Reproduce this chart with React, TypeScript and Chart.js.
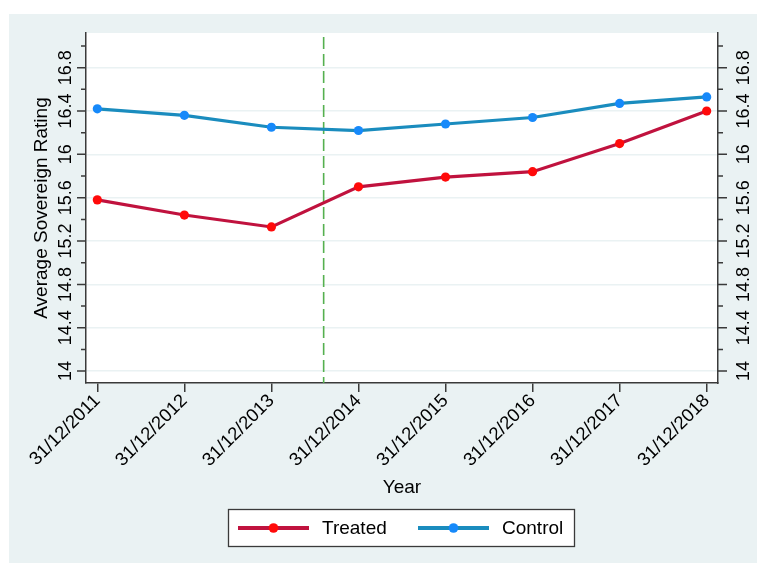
import React, { useEffect, useRef } from 'react';
import { Chart, registerables } from 'chart.js';

Chart.register(...registerables);

// ---- data ----
const categories = [
  '31/12/2011',
  '31/12/2012',
  '31/12/2013',
  '31/12/2014',
  '31/12/2015',
  '31/12/2016',
  '31/12/2017',
  '31/12/2018',
];
const treated = [15.58, 15.44, 15.33, 15.7, 15.79, 15.84, 16.1, 16.4];
const control = [16.42, 16.36, 16.25, 16.22, 16.28, 16.34, 16.47, 16.53];
const seriesNames = ['Treated', 'Control'];
const yMajorTicks = [14, 14.4, 14.8, 15.2, 15.6, 16, 16.4, 16.8];
const yMinorTicks = [14.2, 14.6, 15.0, 15.4, 15.8, 16.2, 16.6, 17.0];
const treatmentX = 2.6; // position of the dashed vertical line (in category units)
const xTitle = 'Year';
const yTitle = 'Average Sovereign Rating';

// ---- styles ----
const FONT = '"Liberation Sans", Arial, Helvetica, sans-serif';
const AXIS = '#3a3a3a';
const PANEL = '#EAF2F3';
const GRID = '#EAF2F3';
const TREATED_LINE = '#C0123E';
const TREATED_MARK = '#FF0A0A';
const CONTROL_LINE = '#1A8CBE';
const CONTROL_MARK = '#1689FA';
const DASH = '#55B04F';
const TICK_FONT = 18;
const XTICK_FONT = 18.5;
const TITLE_FONT = 19;

const W = 761;
const H = 563;

const decorPlugin = {
  id: 'decor',
  beforeDraw(chart: any) {
    const { ctx, chartArea } = chart;
    ctx.save();
    ctx.fillStyle = '#ffffff';
    ctx.fillRect(0, 0, W, H);
    ctx.fillStyle = PANEL;
    ctx.fillRect(9, 14, 757 - 9, H - 14);
    ctx.fillStyle = '#ffffff';
    ctx.fillRect(chartArea.left, chartArea.top, chartArea.right - chartArea.left, chartArea.bottom - chartArea.top);
    ctx.restore();
  },
  beforeDatasetsDraw(chart: any) {
    const { ctx, chartArea, scales } = chart;
    const x = scales.x.getPixelForValue(treatmentX);
    ctx.save();
    ctx.strokeStyle = DASH;
    ctx.lineWidth = 1.6;
    ctx.setLineDash([12, 5]);
    ctx.lineDashOffset = -4;
    ctx.beginPath();
    ctx.moveTo(x, chartArea.top);
    ctx.lineTo(x, chartArea.bottom);
    ctx.stroke();
    ctx.restore();
  },
  afterDraw(chart: any) {
    const { ctx, chartArea, scales } = chart;
    const ys = scales.y;
    ctx.save();
    // y tick marks on both sides
    ctx.strokeStyle = AXIS;
    ctx.lineWidth = 1.5;
    const drawTick = (v: number, len: number) => {
      const py = ys.getPixelForValue(v);
      ctx.beginPath();
      ctx.moveTo(chartArea.left - len, py);
      ctx.lineTo(chartArea.left, py);
      ctx.moveTo(chartArea.right, py);
      ctx.lineTo(chartArea.right + len, py);
      ctx.stroke();
    };
    yMajorTicks.forEach((v) => drawTick(v, 9));
    yMinorTicks.forEach((v) => drawTick(v, 5));

    // y tick labels (rotated)
    ctx.fillStyle = '#000';
    ctx.font = `${TICK_FONT}px ${FONT}`;
    ctx.textAlign = 'center';
    ctx.textBaseline = 'alphabetic';
    yMajorTicks.forEach((v) => {
      const py = ys.getPixelForValue(v);
      const label = String(v);
      [chartArea.left - 15, chartArea.right + 31].forEach((bx) => {
        ctx.save();
        ctx.translate(bx, py);
        ctx.rotate(-Math.PI / 2);
        ctx.fillText(label, 0, 0);
        ctx.restore();
      });
    });

    // axis titles
    ctx.font = `${TITLE_FONT}px ${FONT}`;
    ctx.textAlign = 'center';
    ctx.textBaseline = 'middle';
    ctx.fillText(xTitle, (chartArea.left + chartArea.right) / 2, 488);
    ctx.save();
    ctx.translate(42, (chartArea.top + chartArea.bottom) / 2);
    ctx.rotate(-Math.PI / 2);
    ctx.fillText(yTitle, 0, 0);
    ctx.restore();

    // legend
    const lx = 228, ly = 509, lw = 346, lh = 37;
    ctx.fillStyle = '#ffffff';
    ctx.fillRect(lx, ly, lw, lh);
    ctx.strokeStyle = AXIS;
    ctx.lineWidth = 1.3;
    ctx.strokeRect(lx + 0.5, ly + 0.5, lw, lh);
    const cy = ly + lh / 2 + 0.5;
    const items = [
      { name: seriesNames[0], line: TREATED_LINE, mark: TREATED_MARK, x0: 238, x1: 309, tx: 322 },
      { name: seriesNames[1], line: CONTROL_LINE, mark: CONTROL_MARK, x0: 418, x1: 489, tx: 502 },
    ];
    items.forEach((it) => {
      ctx.strokeStyle = it.line;
      ctx.lineWidth = 4;
      ctx.beginPath();
      ctx.moveTo(it.x0, cy);
      ctx.lineTo(it.x1, cy);
      ctx.stroke();
      ctx.fillStyle = it.mark;
      ctx.beginPath();
      ctx.arc((it.x0 + it.x1) / 2, cy, 4.8, 0, Math.PI * 2);
      ctx.fill();
      ctx.fillStyle = '#000';
      ctx.font = `${TITLE_FONT}px ${FONT}`;
      ctx.textAlign = 'left';
      ctx.textBaseline = 'middle';
      ctx.fillText(it.name, it.tx, cy + 1);
    });
    ctx.restore();
  },
};

export default function App() {
  const ref = useRef<HTMLCanvasElement | null>(null);

  useEffect(() => {
    const canvas = ref.current;
    if (!canvas) return;
    const yMin = 13.89;
    const yMax = 17.12;
    const chart = new Chart(canvas, {
      type: 'line',
      data: {
        datasets: [
          {
            label: seriesNames[0],
            data: treated.map((v, i) => ({ x: i, y: v })),
            borderColor: TREATED_LINE,
            backgroundColor: TREATED_MARK,
            pointBackgroundColor: TREATED_MARK,
            pointBorderWidth: 0,
            pointRadius: 4.6,
            borderWidth: 3.2,
            tension: 0,
            yAxisID: 'y',
          },
          {
            label: seriesNames[1],
            data: control.map((v, i) => ({ x: i, y: v })),
            borderColor: CONTROL_LINE,
            backgroundColor: CONTROL_MARK,
            pointBackgroundColor: CONTROL_MARK,
            pointBorderWidth: 0,
            pointRadius: 4.6,
            borderWidth: 3.2,
            tension: 0,
            yAxisID: 'y',
          },
        ],
      },
      options: {
        responsive: false,
        animation: false,
        devicePixelRatio: 1,
        layout: { padding: { top: 33, left: 0, right: 0, bottom: 0 } },
        plugins: {
          legend: { display: false },
          tooltip: { enabled: false },
        },
        scales: {
          x: {
            type: 'linear',
            min: -0.13,
            max: 7.13,
            afterBuildTicks: (s: any) => {
              s.ticks = categories.map((_, i) => ({ value: i }));
            },
            afterFit: (s: any) => {
              s.height = 180;
            },
            grid: {
              drawOnChartArea: false,
              drawTicks: true,
              tickLength: 9,
              color: AXIS,
              lineWidth: 1.5,
            },
            border: { display: true, color: AXIS, width: 1.5 },
            ticks: {
              autoSkip: false,
              minRotation: 45,
              maxRotation: 45,
              padding: -2,
              color: '#000',
              font: { family: FONT, size: XTICK_FONT },
              callback: (v: any) => categories[v] ?? '',
            },
          },
          y: {
            type: 'linear',
            position: 'left',
            min: yMin,
            max: yMax,
            afterBuildTicks: (s: any) => {
              s.ticks = yMajorTicks.map((v) => ({ value: v }));
            },
            afterFit: (s: any) => {
              s.width = 86;
            },
            grid: { color: GRID, lineWidth: 1.5, drawTicks: false },
            border: { display: true, color: AXIS, width: 1.5 },
            ticks: { display: false },
          },
          y2: {
            type: 'linear',
            position: 'right',
            min: yMin,
            max: yMax,
            afterFit: (s: any) => {
              s.width = 43;
            },
            grid: { display: false, drawTicks: false },
            border: { display: true, color: AXIS, width: 1.5 },
            ticks: { display: false },
          },
        },
      } as any,
      plugins: [decorPlugin],
    });
    return () => chart.destroy();
  }, []);

  return (
    <div style={{ position: 'fixed', left: 0, top: 0, width: W, height: H, background: '#fff' }}>
      <canvas ref={ref} width={W} height={H} style={{ display: 'block', width: W, height: H }} />
    </div>
  );
}
